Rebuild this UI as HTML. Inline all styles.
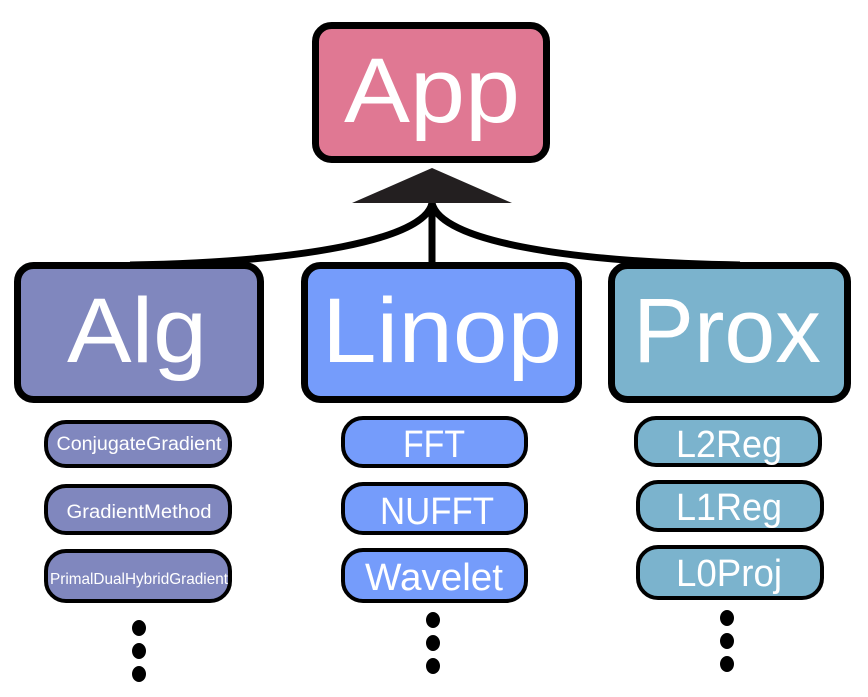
<!DOCTYPE html>
<html><head><meta charset="utf-8"><style>
html,body{margin:0;padding:0;background:#fff;width:868px;height:697px;overflow:hidden}
text{font-family:"Liberation Sans",sans-serif;fill:#fff;text-anchor:middle}
</style></head><body>
<svg width="868" height="697" viewBox="0 0 868 697" xmlns="http://www.w3.org/2000/svg">
<!-- connectors -->
<path d="M432 203 C425 240 300 262 130 265" fill="none" stroke="#000" stroke-width="7"/>
<path d="M432 203 C440 240 560 262 740 265" fill="none" stroke="#000" stroke-width="7"/>
<line x1="432" y1="200" x2="432" y2="266" stroke="#000" stroke-width="7"/>
<polygon points="432,168 352,203 512,203" fill="#231f20"/>
<!-- App -->
<rect x="315.5" y="25.5" width="231" height="134" rx="16" fill="#e07893" stroke="#000" stroke-width="7"/>
<text x="432" y="122" font-size="92" textLength="176" lengthAdjust="spacingAndGlyphs">App</text>
<!-- main boxes -->
<rect x="17.5" y="265.5" width="243" height="134" rx="16" fill="#8087be" stroke="#000" stroke-width="7"/>
<text x="137" y="362" font-size="92" textLength="140" lengthAdjust="spacingAndGlyphs">Alg</text>
<rect x="304.5" y="265.5" width="274" height="134" rx="16" fill="#759cfb" stroke="#000" stroke-width="7"/>
<text x="442" y="362" font-size="92" textLength="240" lengthAdjust="spacingAndGlyphs">Linop</text>
<rect x="611.5" y="265.5" width="236" height="134" rx="16" fill="#7bb3cd" stroke="#000" stroke-width="7"/>
<text x="727" y="362" font-size="92" textLength="188" lengthAdjust="spacingAndGlyphs">Prox</text>
<!-- Alg subs -->
<g stroke="#000" stroke-width="4">
<rect x="46" y="422" width="184" height="44" rx="20" fill="#8087be"/>
<rect x="46" y="486" width="184" height="47" rx="20" fill="#8087be"/>
<rect x="46" y="551" width="184" height="50" rx="20" fill="#8087be"/>
<rect x="343" y="418" width="183" height="48" rx="20" fill="#759cfb"/>
<rect x="343" y="484" width="183" height="49" rx="20" fill="#759cfb"/>
<rect x="343" y="550" width="183" height="51" rx="20" fill="#759cfb"/>
<rect x="636" y="418" width="184" height="47" rx="20" fill="#7bb3cd"/>
<rect x="638" y="482" width="184" height="48" rx="20" fill="#7bb3cd"/>
<rect x="638" y="547" width="184" height="51" rx="20" fill="#7bb3cd"/>
</g>
<text x="139" y="450" font-size="19" textLength="165" lengthAdjust="spacingAndGlyphs">ConjugateGradient</text>
<text x="139" y="518" font-size="19" textLength="145" lengthAdjust="spacingAndGlyphs">GradientMethod</text>
<text x="139" y="584" font-size="16" textLength="178" lengthAdjust="spacingAndGlyphs">PrimalDualHybridGradient</text>
<text x="434" y="457" font-size="38" textLength="62" lengthAdjust="spacingAndGlyphs">FFT</text>
<text x="437" y="524" font-size="38" textLength="114" lengthAdjust="spacingAndGlyphs">NUFFT</text>
<text x="434" y="590" font-size="38" textLength="138" lengthAdjust="spacingAndGlyphs">Wavelet</text>
<text x="729" y="457" font-size="38" textLength="106" lengthAdjust="spacingAndGlyphs">L2Reg</text>
<text x="729" y="520" font-size="38" textLength="106" lengthAdjust="spacingAndGlyphs">L1Reg</text>
<text x="729" y="586" font-size="38" textLength="106" lengthAdjust="spacingAndGlyphs">L0Proj</text>
<!-- dots -->
<g fill="#000">
<ellipse cx="139" cy="628" rx="7" ry="8"/><ellipse cx="139" cy="651" rx="7" ry="8"/><ellipse cx="139" cy="674" rx="7" ry="8"/>
<ellipse cx="433" cy="620" rx="7" ry="8"/><ellipse cx="433" cy="643" rx="7" ry="8"/><ellipse cx="433" cy="666" rx="7" ry="8"/>
<ellipse cx="727" cy="618" rx="7" ry="8"/><ellipse cx="727" cy="641" rx="7" ry="8"/><ellipse cx="727" cy="664" rx="7" ry="8"/>
</g>
</svg>
</body></html>
